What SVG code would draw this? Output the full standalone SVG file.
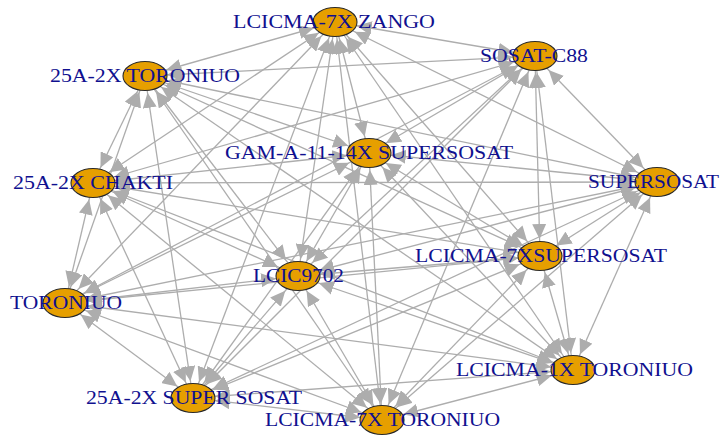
<svg xmlns="http://www.w3.org/2000/svg" width="720" height="436" viewBox="0 0 720 436">
<style>
.e line{stroke:#ADADAD;stroke-width:1.3;fill:none}
.e .h{marker-start:url(#ah);marker-end:url(#ah)}
.e .m{marker-start:url(#am);marker-end:url(#am)}
.e .v{marker-start:url(#av);marker-end:url(#av)}
.n ellipse{fill:#E69F00;stroke:#2a2a2a;stroke-width:1.1}
.n text{font-family:"Liberation Serif","Times New Roman",serif;font-size:18px;fill:#10108f}
</style>
<defs>
<marker id="ah" viewBox="0 -7 37 14" refX="37" refY="0" markerWidth="37" markerHeight="14" markerUnits="userSpaceOnUse" orient="auto-start-reverse"><path d="M0,-7L15,0L0,7Z" fill="#ADADAD"/></marker>
<marker id="am" viewBox="0 -7 34.5 14" refX="34.5" refY="0" markerWidth="34.5" markerHeight="14" markerUnits="userSpaceOnUse" orient="auto-start-reverse"><path d="M0,-7L15,0L0,7Z" fill="#ADADAD"/></marker>
<marker id="av" viewBox="0 -7 32 14" refX="32" refY="0" markerWidth="32" markerHeight="14" markerUnits="userSpaceOnUse" orient="auto-start-reverse"><path d="M0,-7L15,0L0,7Z" fill="#ADADAD"/></marker>
</defs>
<rect width="720" height="436" fill="#fff"/>
<g id="edges" class="e">
<line class="h" x1="335" y1="22" x2="145" y2="76"/>
<line class="h" x1="335" y1="22" x2="535" y2="56"/>
<line class="h" x1="335" y1="22" x2="657" y2="182"/>
<line class="h" x1="145" y1="76" x2="369" y2="153"/>
<line class="h" x1="145" y1="76" x2="535" y2="56"/>
<line class="h" x1="145" y1="76" x2="657" y2="182"/>
<line class="h" x1="145" y1="76" x2="540" y2="256"/>
<line class="h" x1="93" y1="183" x2="369" y2="153"/>
<line class="h" x1="93" y1="183" x2="535" y2="56"/>
<line class="h" x1="93" y1="183" x2="657" y2="182"/>
<line class="h" x1="93" y1="183" x2="298" y2="276"/>
<line class="h" x1="93" y1="183" x2="540" y2="256"/>
<line class="h" x1="93" y1="183" x2="573" y2="370"/>
<line class="h" x1="369" y1="153" x2="657" y2="182"/>
<line class="h" x1="369" y1="153" x2="65" y2="303"/>
<line class="h" x1="535" y1="56" x2="65" y2="303"/>
<line class="h" x1="657" y1="182" x2="65" y2="303"/>
<line class="h" x1="657" y1="182" x2="298" y2="276"/>
<line class="h" x1="657" y1="182" x2="193" y2="398"/>
<line class="h" x1="65" y1="303" x2="298" y2="276"/>
<line class="h" x1="65" y1="303" x2="540" y2="256"/>
<line class="h" x1="65" y1="303" x2="573" y2="370"/>
<line class="h" x1="65" y1="303" x2="382" y2="420"/>
<line class="h" x1="298" y1="276" x2="540" y2="256"/>
<line class="h" x1="298" y1="276" x2="573" y2="370"/>
<line class="h" x1="193" y1="398" x2="540" y2="256"/>
<line class="h" x1="193" y1="398" x2="573" y2="370"/>
<line class="h" x1="193" y1="398" x2="382" y2="420"/>
<line class="h" x1="573" y1="370" x2="382" y2="420"/>
<line class="m" x1="335" y1="22" x2="93" y2="183"/>
<line class="m" x1="335" y1="22" x2="65" y2="303"/>
<line class="m" x1="335" y1="22" x2="540" y2="256"/>
<line class="m" x1="335" y1="22" x2="573" y2="370"/>
<line class="m" x1="145" y1="76" x2="298" y2="276"/>
<line class="m" x1="145" y1="76" x2="573" y2="370"/>
<line class="m" x1="145" y1="76" x2="382" y2="420"/>
<line class="m" x1="93" y1="183" x2="382" y2="420"/>
<line class="m" x1="369" y1="153" x2="535" y2="56"/>
<line class="m" x1="369" y1="153" x2="193" y2="398"/>
<line class="m" x1="369" y1="153" x2="540" y2="256"/>
<line class="m" x1="369" y1="153" x2="573" y2="370"/>
<line class="m" x1="535" y1="56" x2="657" y2="182"/>
<line class="m" x1="535" y1="56" x2="298" y2="276"/>
<line class="m" x1="535" y1="56" x2="193" y2="398"/>
<line class="m" x1="657" y1="182" x2="540" y2="256"/>
<line class="m" x1="657" y1="182" x2="382" y2="420"/>
<line class="m" x1="65" y1="303" x2="193" y2="398"/>
<line class="m" x1="298" y1="276" x2="193" y2="398"/>
<line class="m" x1="540" y1="256" x2="382" y2="420"/>
<line class="v" x1="335" y1="22" x2="369" y2="153"/>
<line class="v" x1="335" y1="22" x2="298" y2="276"/>
<line class="v" x1="335" y1="22" x2="193" y2="398"/>
<line class="v" x1="335" y1="22" x2="382" y2="420"/>
<line class="v" x1="145" y1="76" x2="93" y2="183"/>
<line class="v" x1="145" y1="76" x2="65" y2="303"/>
<line class="v" x1="145" y1="76" x2="193" y2="398"/>
<line class="v" x1="93" y1="183" x2="65" y2="303"/>
<line class="v" x1="93" y1="183" x2="193" y2="398"/>
<line class="v" x1="369" y1="153" x2="298" y2="276"/>
<line class="v" x1="369" y1="153" x2="382" y2="420"/>
<line class="v" x1="535" y1="56" x2="540" y2="256"/>
<line class="v" x1="535" y1="56" x2="573" y2="370"/>
<line class="v" x1="535" y1="56" x2="382" y2="420"/>
<line class="v" x1="657" y1="182" x2="573" y2="370"/>
<line class="v" x1="298" y1="276" x2="382" y2="420"/>
<line class="v" x1="540" y1="256" x2="573" y2="370"/>
</g>
<g id="n-zango" class="n"><ellipse cx="335" cy="22" rx="22" ry="14.5"/><text x="233" y="28" textLength="202" lengthAdjust="spacingAndGlyphs">LCICMA-7X ZANGO</text></g>
<g id="n-25a-toroniuo" class="n"><ellipse cx="145" cy="76" rx="22" ry="14.5"/><text x="50" y="82" textLength="190" lengthAdjust="spacingAndGlyphs">25A-2X TORONIUO</text></g>
<g id="n-chakti" class="n"><ellipse cx="93" cy="183" rx="22" ry="14.5"/><text x="13" y="189" textLength="160" lengthAdjust="spacingAndGlyphs">25A-2X CHAKTI</text></g>
<g id="n-gam" class="n"><ellipse cx="369" cy="153" rx="22" ry="14.5"/><text x="225" y="159" textLength="288" lengthAdjust="spacingAndGlyphs">GAM-A-11-14X SUPERSOSAT</text></g>
<g id="n-sosat" class="n"><ellipse cx="535" cy="56" rx="22" ry="14.5"/><text x="480" y="62" textLength="108" lengthAdjust="spacingAndGlyphs">SOSAT-C88</text></g>
<g id="n-supersosat" class="n"><ellipse cx="657" cy="182" rx="22" ry="14.5"/><text x="588" y="188" textLength="131" lengthAdjust="spacingAndGlyphs">SUPERSOSAT</text></g>
<g id="n-toroniuo" class="n"><ellipse cx="65" cy="303" rx="22" ry="14.5"/><text x="10" y="309" textLength="112" lengthAdjust="spacingAndGlyphs">TORONIUO</text></g>
<g id="n-lcic9702" class="n"><ellipse cx="298" cy="276" rx="22" ry="14.5"/><text x="253" y="282" textLength="91" lengthAdjust="spacingAndGlyphs">LCIC9702</text></g>
<g id="n-25a-supersosat" class="n"><ellipse cx="193" cy="398" rx="22" ry="14.5"/><text x="86" y="404" textLength="216" lengthAdjust="spacingAndGlyphs">25A-2X SUPER SOSAT</text></g>
<g id="n-lcicma-7xsupersosat" class="n"><ellipse cx="540" cy="256" rx="22" ry="14.5"/><text x="415" y="262" textLength="252" lengthAdjust="spacingAndGlyphs">LCICMA-7XSUPERSOSAT</text></g>
<g id="n-lcicma-1x" class="n"><ellipse cx="573" cy="370" rx="22" ry="14.5"/><text x="456" y="376" textLength="237" lengthAdjust="spacingAndGlyphs">LCICMA-1X TORONIUO</text></g>
<g id="n-lcicma-7x-toroniuo" class="n"><ellipse cx="382" cy="420" rx="22" ry="14.5"/><text x="265" y="426" textLength="235" lengthAdjust="spacingAndGlyphs">LCICMA-7X TORONIUO</text></g>
</svg>
